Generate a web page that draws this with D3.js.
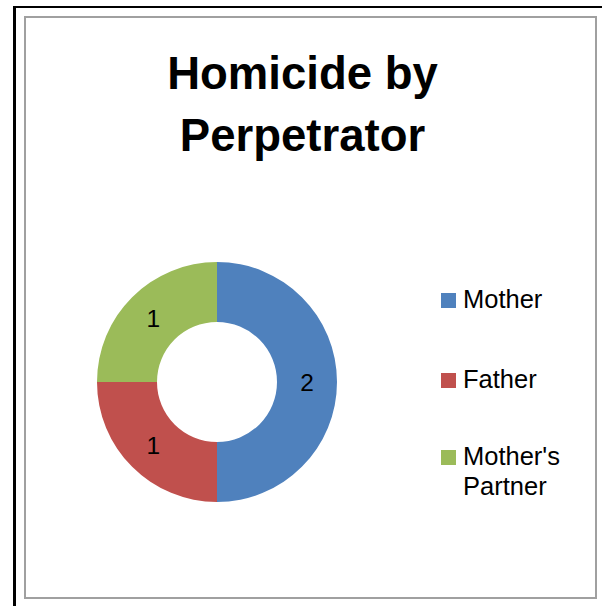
<!DOCTYPE html>
<html><head><meta charset="utf-8">
<script src="https://cdn.jsdelivr.net/npm/d3@7"></script>
<style>body{margin:0;background:#fff}svg{display:block;font-family:"Liberation Sans",Arial,sans-serif}</style>
</head><body>
<svg id="c" width="602" height="606"></svg>
<script>
const categories = ["Mother", "Father", "Mother's Partner"];
const values = [2, 1, 1];
const colors = ["#4F81BD", "#C0504D", "#9BBB59"];
const titleLines = ["Homicide by", "Perpetrator"];
const legendLines = [["Mother"], ["Father"], ["Mother's", "Partner"]];

const svg = d3.select("#c");
// outer black frame
svg.append("rect").attr("x",13).attr("y",6).attr("width",3).attr("height",600).attr("fill","#000");
svg.append("rect").attr("x",13).attr("y",6).attr("width",589).attr("height",2).attr("fill","#000");
// chart area frame
svg.append("rect").attr("x",25).attr("y",17).attr("width",571).attr("height",581)
  .attr("fill","#fff").attr("stroke","#a0a0a0").attr("stroke-width",2);

// title
svg.append("text").attr("x",302).attr("font-size",45.5).attr("font-weight","bold")
  .attr("text-anchor","middle").attr("fill","#000")
  .selectAll("tspan").data(titleLines).join("tspan")
  .attr("x",302.5).attr("y",(d,i)=>89+i*62).text(d=>d);

const data = categories.map((c,i)=>({cat:c, value:values[i], color:colors[i]}));
const pie = d3.pie().sort(null).value(d=>d.value);
const arc = d3.arc().innerRadius(60).outerRadius(120);
const labelArc = d3.arc().innerRadius(90).outerRadius(90);
const g = svg.append("g").attr("transform","translate(217,382)");
const arcs = pie(data);
g.selectAll("path").data(arcs).join("path").attr("d",arc).attr("fill",d=>d.data.color);
g.selectAll("text").data(arcs).join("text")
  .attr("transform",d=>`translate(${labelArc.centroid(d)})`)
  .attr("text-anchor","middle").attr("dy","0.36em").attr("font-size",24.5)
  .attr("fill","#000").text(d=>d.data.value);

// legend
const legY = [308, 388, 465];
const lg = svg.append("g");
data.forEach((d,i)=>{
  lg.append("rect").attr("x",441).attr("y",legY[i]-15).attr("width",15).attr("height",15).attr("fill",d.color);
  const t = lg.append("text").attr("font-size",25.5).attr("fill","#000");
  legendLines[i].forEach((line,j)=>{
    t.append("tspan").attr("x",463).attr("y",legY[i]+j*30).text(line);
  });
});
</script>
</body></html>
